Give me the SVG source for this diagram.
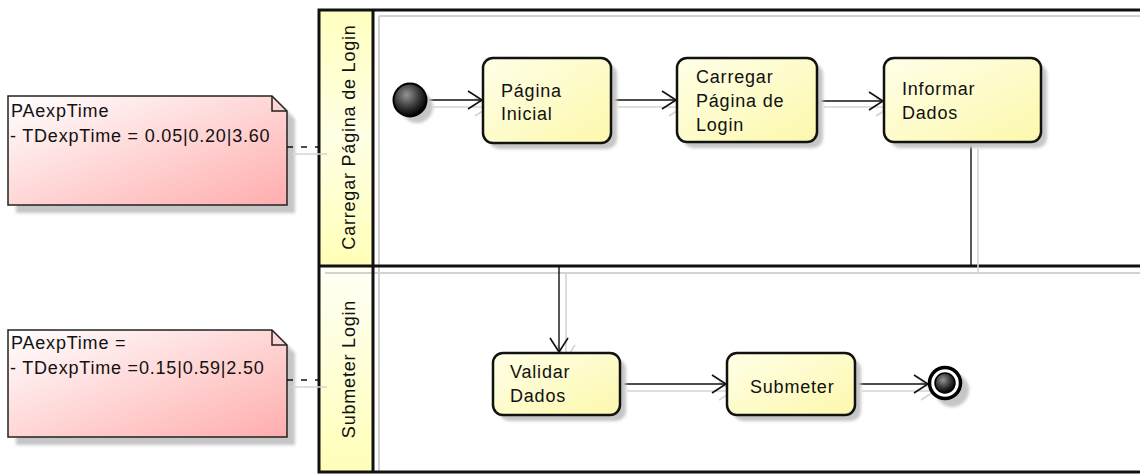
<svg xmlns="http://www.w3.org/2000/svg" width="1140" height="475" viewBox="0 0 1140 475">
  <defs>
    <linearGradient id="actFill" x1="0" y1="0" x2="1" y2="1">
      <stop offset="0" stop-color="#ffffe8"/>
      <stop offset="1" stop-color="#fcf8ac"/>
    </linearGradient>
    <linearGradient id="noteFill" x1="0" y1="0" x2="1" y2="1">
      <stop offset="0" stop-color="#ffffff"/>
      <stop offset="1" stop-color="#ffadad"/>
    </linearGradient>
    <linearGradient id="laneTop" x1="0" y1="0" x2="0" y2="1">
      <stop offset="0" stop-color="#ffffc0"/>
      <stop offset="0.5" stop-color="#ffffe4"/>
      <stop offset="1" stop-color="#ffffb8"/>
    </linearGradient>
    <linearGradient id="laneBottom" x1="0" y1="0" x2="0" y2="1">
      <stop offset="0" stop-color="#fffff6"/>
      <stop offset="1" stop-color="#ffffb8"/>
    </linearGradient>
    <radialGradient id="ball" cx="0.4" cy="0.35" r="0.65">
      <stop offset="0" stop-color="#959595"/>
      <stop offset="0.6" stop-color="#353535"/>
      <stop offset="1" stop-color="#000000"/>
    </radialGradient>
    <filter id="soft" x="-20%" y="-20%" width="140%" height="140%">
      <feGaussianBlur stdDeviation="1.5"/>
    </filter>
    <marker id="open" markerUnits="userSpaceOnUse" markerWidth="18" markerHeight="22" refX="15" refY="10" orient="auto">
      <path d="M1,1 L15,10 L1,19" fill="none" stroke="#111" stroke-width="1.6"/>
    </marker>
    <marker id="openShadow" markerUnits="userSpaceOnUse" markerWidth="18" markerHeight="22" refX="15" refY="10" orient="auto">
      <path d="M1,1 L15,10 L1,19" fill="none" stroke="#d4d4d4" stroke-width="1.6"/>
    </marker>
  </defs>
  <style>
    text { font-family: "Liberation Sans", Arial, sans-serif; font-size: 18px; letter-spacing: 0.8px; fill: #111; }
    .act { fill: url(#actFill); stroke: #111; stroke-width: 2.5; }
    .shadow { fill: #c6c6c6; filter: url(#soft); }
    .flow { fill: none; stroke: #111; stroke-width: 1.4; marker-end: url(#open); }
    .flowShadow { fill: none; stroke: #d4d4d4; stroke-width: 1.6; marker-end: url(#openShadow); }
    .link { fill: none; stroke: #111; stroke-width: 1.6; stroke-dasharray: 6 8; }
    .linkShadow { fill: none; stroke: #d4d4d4; stroke-width: 1.6; }
    .note { fill: url(#noteFill); stroke: #222; stroke-width: 1.5; }
    .pool { fill: none; stroke: #111; stroke-width: 3; }
    .poolShadow { fill: none; stroke: #d2d2d2; stroke-width: 2; }
  </style>

  <!-- swimlane frame -->
  <g id="pool">
    <rect x="319" y="10" width="54" height="256" fill="url(#laneTop)"/>
    <rect x="319" y="266" width="54" height="206" fill="url(#laneBottom)"/>
    <path class="poolShadow" d="M379,16 H1140 M325,273 H1140 M379,16 V472"/>
    <path class="pool" d="M1145,10 H319 V472 H1145 M373,10 V472 M319,266 H1145"/>
  </g>

  <g id="lane-carregar">
    <text transform="translate(355,137) rotate(-90)" text-anchor="middle">Carregar Página de Login</text>
  </g>
  <g id="lane-submeter">
    <text transform="translate(355,369) rotate(-90)" text-anchor="middle">Submeter Login</text>
  </g>

  <!-- notes -->
  <g id="note-carregar">
    <path class="shadow" d="M16,104 H280 L295,119 V213 H16 Z"/>
    <path class="note" d="M8,96 H272 L287,111 V205 H8 Z"/>
    <path d="M272,96 V111 H287" fill="none" stroke="#222" stroke-width="1.5"/>
    <text x="11" y="117">PAexpTime</text>
    <text x="10" y="142">- TDexpTime = 0.05|0.20|3.60</text>
  </g>
  <g id="note-submeter">
    <path class="shadow" d="M16,338 H280 L295,353 V445 H16 Z"/>
    <path class="note" d="M8,330 H272 L287,345 V437 H8 Z"/>
    <path d="M272,330 V345 H287" fill="none" stroke="#222" stroke-width="1.5"/>
    <text x="11" y="349">PAexpTime =</text>
    <text x="10" y="374">- TDexpTime =0.15|0.59|2.50</text>
  </g>

  <!-- connectors -->
  <g id="connectors">
    <g id="connector-shadows">
      <path class="flowShadow" d="M433,107 H489"/>
      <path class="flowShadow" d="M618,107 H683"/>
      <path class="flowShadow" d="M824,107 H890"/>
      <path class="flowShadow" d="M978,149 V273 H566 V359"/>
      <path class="flowShadow" d="M627,391 H733"/>
      <path class="flowShadow" d="M862,391 H935"/>
      <path class="linkShadow" d="M292,154 H327"/>
      <path class="linkShadow" d="M292,387 H327"/>
    </g>
    <path class="flow" d="M426,100 H482"/>
    <path class="flow" d="M611,100 H676"/>
    <path class="flow" d="M817,101 H883"/>
    <path class="flow" d="M971,142 V266 H559 V352"/>
    <path class="flow" d="M620,384 H726"/>
    <path class="flow" d="M855,384 H928"/>
    <path class="link" d="M287,147 H318"/>
    <path class="link" d="M287,380 H318"/>
  </g>

  <!-- start / end -->
  <g id="initial">
    <circle class="shadow" cx="417" cy="107" r="16"/>
    <circle cx="410" cy="100" r="16.5" fill="url(#ball)" stroke="#000" stroke-width="2"/>
  </g>
  <g id="final">
    <circle class="shadow" cx="952" cy="390" r="17"/>
    <circle cx="945" cy="383" r="15.5" fill="#fff" stroke="#000" stroke-width="3.5"/>
    <circle cx="945" cy="383" r="10" fill="url(#ball)" stroke="#000" stroke-width="1.5"/>
  </g>

  <!-- activities -->
  <g id="pagina-inicial">
    <rect class="shadow" x="489" y="64" width="128" height="85" rx="10"/>
    <rect class="act" x="483" y="58" width="128" height="85" rx="10"/>
    <text x="501" y="97">Página</text>
    <text x="501" y="120">Inicial</text>
  </g>
  <g id="carregar-pagina">
    <rect class="shadow" x="683" y="64" width="140" height="84" rx="10"/>
    <rect class="act" x="677" y="58" width="140" height="84" rx="10"/>
    <text x="696" y="83">Carregar</text>
    <text x="696" y="107">Página de</text>
    <text x="696" y="131">Login</text>
  </g>
  <g id="informar-dados">
    <rect class="shadow" x="890" y="64" width="157" height="84" rx="10"/>
    <rect class="act" x="884" y="58" width="157" height="84" rx="10"/>
    <text x="902" y="95">Informar</text>
    <text x="902" y="119">Dados</text>
  </g>
  <g id="validar-dados">
    <rect class="shadow" x="499" y="359" width="127" height="62" rx="10"/>
    <rect class="act" x="493" y="353" width="127" height="62" rx="10"/>
    <text x="510" y="378">Validar</text>
    <text x="510" y="402">Dados</text>
  </g>
  <g id="submeter">
    <rect class="shadow" x="733" y="359" width="128" height="62" rx="10"/>
    <rect class="act" x="727" y="353" width="128" height="62" rx="10"/>
    <text x="750" y="393">Submeter</text>
  </g>
</svg>
